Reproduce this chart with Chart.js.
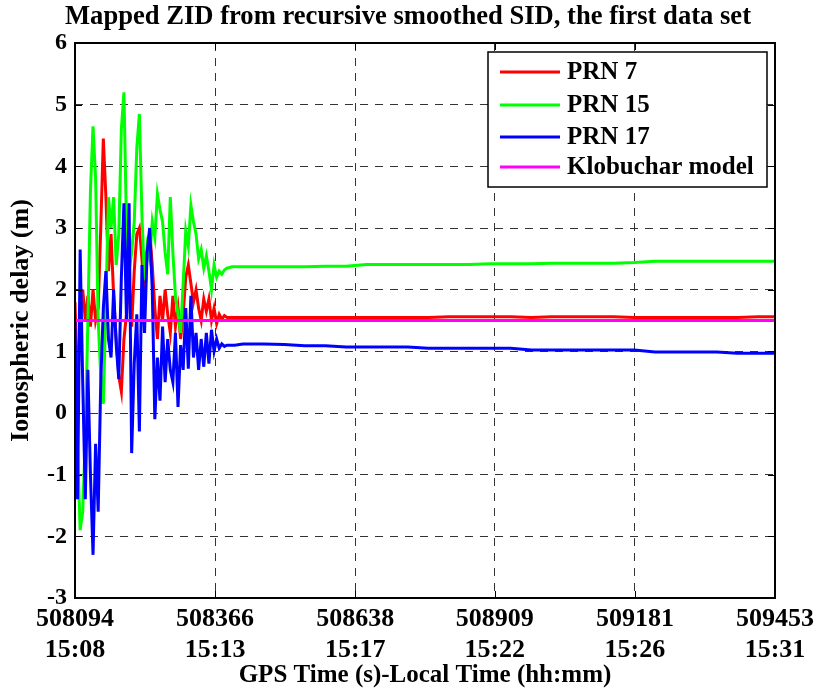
<!DOCTYPE html>
<html>
<head>
<meta charset="utf-8">
<title>Mapped ZID</title>
<script src="https://cdn.jsdelivr.net/npm/chart.js@4/dist/chart.umd.min.js"></script>
<style>
  html, body { margin: 0; padding: 0; background: #fff; }
  canvas { display: block; }
</style>
</head>
<body>
<canvas id="zid" width="816" height="691"></canvas>
<script>
// GPS time of week (s): dense during convergence, sparse once the filter settles
const gpsTime = [
  508094, 508099, 508104, 508109, 508114, 508119, 508124, 508129, 508134, 508139,
  508144, 508149, 508154, 508159, 508164, 508169, 508174, 508179, 508184, 508189,
  508194, 508199, 508204, 508209, 508214, 508219, 508224, 508229, 508234, 508239,
  508244, 508249, 508254, 508259, 508264, 508269, 508274, 508279, 508284, 508289,
  508294, 508299, 508304, 508309, 508314, 508319, 508324, 508329, 508334, 508339,
  508344, 508349, 508354, 508359, 508364, 508369, 508374, 508379, 508384, 508389,
  508394, 508399, 508404,
  508420, 508460, 508500, 508540, 508580, 508620, 508660, 508700, 508740, 508780,
  508820, 508860, 508900, 508940, 508980, 509020, 509060, 509100, 509140, 509180,
  509220, 509260, 509300, 509340, 509380, 509420, 509453
];

// mapped zenith delay (m)
const prn7 = [
  1.8, 0.3, 1.5, 2.0, 1.5, 1.9, 1.4, 2.0, 1.5, 1.7,
  3.0, 4.45, 3.5, 2.3, 2.9, 1.9, 1.2, 0.6, 0.35, 1.2,
  1.6, 2.2, 1.4, 2.3, 2.9, 3.0, 2.5, 1.8, 2.6, 2.95,
  2.4, 1.7, 1.2, 1.9, 1.5, 2.0, 1.6, 1.3, 1.9, 1.4,
  1.7, 1.2, 1.6, 2.2, 2.4, 2.1, 1.8, 2.0, 1.7, 1.5,
  1.85, 1.65, 1.85, 1.5, 1.7, 1.45, 1.6, 1.52, 1.58, 1.55,
  1.55, 1.55, 1.55,
  1.55, 1.55, 1.55, 1.55, 1.55, 1.55, 1.55, 1.55, 1.55, 1.55,
  1.56, 1.56, 1.56, 1.56, 1.55, 1.56, 1.56, 1.56, 1.56, 1.55,
  1.55, 1.55, 1.55, 1.55, 1.55, 1.56, 1.56
];

const prn15 = [
  1.0, -0.6, -1.9, -1.6, -0.4, 1.5, 3.6, 4.65, 3.8, 1.5,
  0.6, 0.15, 1.8, 3.5, 3.0, 3.5, 2.4, 2.9, 4.6, 5.2,
  3.0, 2.3, 2.6, 3.1, 4.3, 4.85, 3.2, 2.15, 2.7, 2.5,
  3.1, 2.85, 3.55, 3.3, 3.1, 2.6, 2.25, 3.5, 2.6, 1.9,
  1.6, 1.3, 2.1, 2.95, 2.7, 3.37, 3.1, 2.9, 2.5, 2.65,
  2.35, 2.55, 2.3, 2.0, 2.4, 2.2, 2.3, 2.25, 2.32, 2.35,
  2.36, 2.37, 2.37,
  2.37, 2.37, 2.37, 2.37, 2.38, 2.38, 2.41, 2.41, 2.41, 2.41,
  2.41, 2.41, 2.42, 2.42, 2.42, 2.43, 2.43, 2.43, 2.43, 2.44,
  2.46, 2.46, 2.46, 2.46, 2.46, 2.46, 2.46
];

const prn17 = [
  1.5, -1.4, 2.65, 0.5, -1.4, 0.7, -1.0, -2.3, -0.5, -1.6,
  0.5, 1.7, 2.3, 1.2, 0.9, 2.0, 1.1, 0.55, 2.2, 3.4,
  1.5, 3.4, -0.65, 0.8, 1.6, -0.3, 2.4, 1.3, 2.6, 3.0,
  2.0, -0.1, 0.9, 0.2, 1.4, 0.5, 1.2, 0.7, 0.5, 1.3,
  0.1, 1.1, 0.7, 1.7, 0.72, 1.9, 0.9, 1.3, 0.7, 1.2,
  0.75, 1.3, 0.8, 1.35, 1.0, 1.2, 1.05, 1.12, 1.08, 1.1,
  1.1, 1.1, 1.1,
  1.12, 1.12, 1.11, 1.09, 1.09, 1.07, 1.07, 1.07, 1.07, 1.05,
  1.05, 1.05, 1.05, 1.05, 1.02, 1.02, 1.02, 1.02, 1.02, 1.02,
  0.99, 0.99, 0.99, 0.99, 0.97, 0.97, 0.97
];

// broadcast Klobuchar estimate over the whole span
const klobTime = [508094, 509453];
const klobuchar = [1.5, 1.5];

const xTicks = [508094, 508366, 508638, 508909, 509181, 509453];
const localTime = ['15:08', '15:13', '15:17', '15:22', '15:26', '15:31'];
const yMin = -3, yMax = 6;

const FONT = "'Liberation Serif', 'Times New Roman', serif";
const TITLE = 'Mapped ZID from recursive smoothed SID, the first data set';

function pts(xs, ys) {
  return xs.map((x, i) => ({ x: x, y: ys[i] }));
}

function series(label, xs, ys, color, order) {
  return {
    label: label,
    data: pts(xs, ys),
    borderColor: color,
    backgroundColor: color,
    borderWidth: 3,
    pointRadius: 0,
    tension: 0,
    fill: false,
    order: order
  };
}

// plot title, centred over the whole figure rather than the axes
const figTitle = {
  id: 'figTitle',
  afterDraw(chart) {
    const ctx = chart.ctx;
    ctx.save();
    ctx.font = 'bold 26.6px ' + FONT;
    ctx.fillStyle = '#000';
    ctx.textAlign = 'center';
    ctx.textBaseline = 'middle';
    ctx.fillText(TITLE, 408, 17);
    ctx.restore();
  }
};

// solid box round the axes with short inward ticks on all four sides
const frame = {
  id: 'frame',
  afterDatasetsDraw(chart) {
    const { ctx, chartArea: a, scales } = chart;
    ctx.save();
    ctx.strokeStyle = '#000';
    ctx.lineWidth = 1;
    ctx.beginPath();
    scales.x.ticks.forEach(t => {
      const px = Math.round(scales.x.getPixelForValue(t.value)) + 0.5;
      ctx.moveTo(px, a.bottom); ctx.lineTo(px, a.bottom - 7);
      ctx.moveTo(px, a.top); ctx.lineTo(px, a.top + 7);
    });
    scales.y.ticks.forEach(t => {
      const py = Math.round(scales.y.getPixelForValue(t.value)) + 0.5;
      ctx.moveTo(a.left, py); ctx.lineTo(a.left + 7, py);
      ctx.moveTo(a.right, py); ctx.lineTo(a.right - 7, py);
    });
    ctx.stroke();
    ctx.lineWidth = 2;
    ctx.strokeRect(a.left, a.top, a.right - a.left, a.bottom - a.top);
    ctx.restore();
  }
};

// boxed legend in the upper right corner
const boxLegend = {
  id: 'boxLegend',
  afterDraw(chart) {
    const ctx = chart.ctx;
    const x0 = 488, y0 = 52, w = 279, h = 135;
    const rows = [72, 105, 137, 167];
    ctx.save();
    ctx.fillStyle = '#fff';
    ctx.fillRect(x0, y0, w, h);
    ctx.strokeStyle = '#000';
    ctx.lineWidth = 1.5;
    ctx.strokeRect(x0, y0, w, h);
    ctx.font = 'bold 25px ' + FONT;
    ctx.textBaseline = 'middle';
    ctx.textAlign = 'left';
    chart.data.datasets.forEach((ds, i) => {
      const y = rows[i];
      ctx.strokeStyle = ds.borderColor;
      ctx.lineWidth = 3;
      ctx.beginPath();
      ctx.moveTo(500, y); ctx.lineTo(560, y);
      ctx.stroke();
      ctx.fillStyle = '#000';
      ctx.fillText(ds.label, 567, y + 1);
    });
    ctx.restore();
  }
};

new Chart(document.getElementById('zid'), {
  type: 'line',
  data: {
    datasets: [
      series('PRN 7', gpsTime, prn7, '#ff0000', 4),
      series('PRN 15', gpsTime, prn15, '#00ff00', 3),
      series('PRN 17', gpsTime, prn17, '#0000ff', 2),
      series('Klobuchar model', klobTime, klobuchar, '#ff00ff', 1)
    ]
  },
  options: {
    responsive: false,
    animation: false,
    layout: { padding: { left: 0, right: 41, top: 43, bottom: 0 } },
    plugins: {
      legend: { display: false },
      tooltip: { enabled: false },
      title: { display: false }
    },
    scales: {
      x: {
        type: 'linear',
        min: xTicks[0],
        max: xTicks[xTicks.length - 1],
        afterBuildTicks: s => { s.ticks = xTicks.map(v => ({ value: v })); },
        afterFit: s => {
          s.height = 93;
          // end labels may hang past the axes; the margins already leave room
          s.paddingLeft = 0;
          s.paddingRight = 0;
        },
        grid: { color: '#333', lineWidth: 1, drawTicks: false, borderDash: [8, 7] },
        border: { display: false, dash: [8, 7] },
        ticks: {
          color: '#000',
          padding: 6,
          maxRotation: 0,
          autoSkip: false,
          font: { family: FONT, size: 26, weight: 'bold', lineHeight: 1.19 },
          callback: (v, i) => [String(xTicks[i]), localTime[i]]
        },
        title: {
          display: true,
          text: 'GPS Time (s)-Local Time (hh:mm)',
          color: '#000',
          font: { family: FONT, size: 25, weight: 'bold' },
          padding: { top: 0, bottom: 0 }
        }
      },
      y: {
        min: yMin,
        max: yMax,
        afterFit: s => {
          s.width = 75;
          s.paddingTop = 0;
          s.paddingBottom = 0;
        },
        grid: { color: '#333', lineWidth: 1, drawTicks: false, borderDash: [8, 7] },
        border: { display: false, dash: [8, 7] },
        ticks: {
          stepSize: 1,
          color: '#000',
          padding: 8,
          font: { family: FONT, size: 24, weight: 'bold' }
        },
        title: {
          display: true,
          text: 'Ionospheric delay (m)',
          color: '#000',
          font: { family: FONT, size: 26, weight: 'bold' },
          padding: { top: 6, bottom: 0 }
        }
      }
    }
  },
  plugins: [frame, boxLegend, figTitle]
});
</script>
</body>
</html>
